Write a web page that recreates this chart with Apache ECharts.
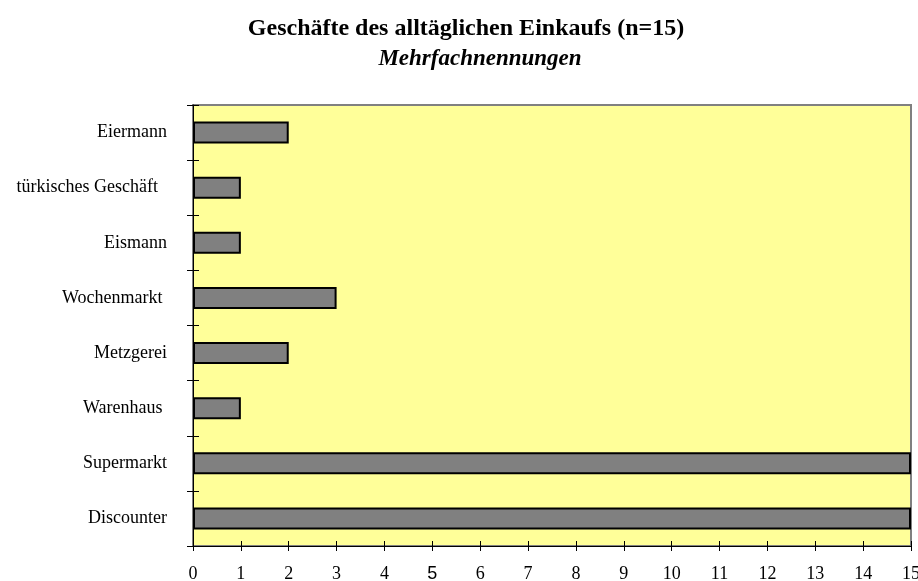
<!DOCTYPE html>
<html>
<head>
<meta charset="utf-8">
<script src="https://cdn.jsdelivr.net/npm/echarts@6/dist/echarts.min.js"></script>
<style>
  html, body { margin: 0; padding: 0; background: #fff; }
  #chart { width: 918px; height: 581px; }
</style>
</head>
<body>
<div id="chart"></div>
<script>
// Kategorien von unten nach oben
var categories = ['Discounter', 'Supermarkt', 'Warenhaus ', 'Metzgerei', 'Wochenmarkt ', 'Eismann', 'türkisches Geschäft  ', 'Eiermann'];
var values = [15, 15, 1, 2, 3, 1, 1, 2];
var xTicks = [0, 15, 1]; // min, max, interval

(function() {
  var myChart = echarts.init(document.getElementById('chart'));
  var serif = '"Liberation Serif", "DejaVu Serif", serif';
  var option = {
    animation: false,
    title: [
      {
        text: 'Geschäfte des alltäglichen Einkaufs (n=15)',
        left: 461, top: 12, textAlign: 'center',
        textStyle: { fontFamily: serif, fontSize: 24, fontWeight: 'bold', color: '#000' }
      },
      {
        text: 'Mehrfachnennungen',
        left: 475, top: 43, textAlign: 'center',
        textStyle: { fontFamily: serif, fontSize: 23, fontWeight: 'bold', fontStyle: 'italic', color: '#000' }
      }
    ],
    grid: {
      left: 193, top: 105, right: 7, bottom: 35,
      outerBoundsMode: 'none',
      containLabel: false,
      show: true,
      backgroundColor: '#ffff99',
      borderColor: '#808080',
      borderWidth: 2
    },
    xAxis: [
      {
        type: 'value',
        min: xTicks[0], max: xTicks[1], interval: xTicks[2],
        axisLine: { show: true, lineStyle: { color: '#000', width: 1 } },
        axisTick: { show: true, length: 5, lineStyle: { color: '#000' } },
        splitLine: { show: false },
        axisLabel: {
          margin: 19,
          color: '#000',
          fontFamily: serif,
          fontSize: 18,
          formatter: function (v) { return v === 5 ? '{s|5}' : String(v); },
          rich: { s: { fontFamily: '"Liberation Sans", Arial, sans-serif', fontSize: 18, color: '#000' } }
        }
      },
      {
        type: 'value',
        position: 'bottom',
        min: xTicks[0], max: xTicks[1], interval: xTicks[2],
        axisLine: { show: false },
        axisTick: { show: true, inside: true, length: 5, lineStyle: { color: '#000' } },
        splitLine: { show: false },
        axisLabel: { show: false }
      }
    ],
    yAxis: [
      {
        type: 'category',
        data: categories,
        axisLine: { show: true, lineStyle: { color: '#000', width: 1 } },
        axisTick: { show: true, length: 6, lineStyle: { color: '#000' } },
        axisLabel: { margin: 26, color: '#000', fontFamily: serif, fontSize: 18 }
      },
      {
        type: 'category',
        position: 'left',
        data: categories,
        axisLine: { show: false },
        axisTick: { show: true, inside: true, length: 6, lineStyle: { color: '#000' } },
        axisLabel: { show: false }
      }
    ],
    series: [
      {
        type: 'bar',
        data: values,
        barCategoryGap: '60%',
        itemStyle: { color: '#808080', borderColor: '#000', borderWidth: 2 }
      }
    ]
  };
  myChart.setOption(option);
  window.addEventListener('resize', function () {
    myChart.resize();
  });
})();
</script>
</body>
</html>
